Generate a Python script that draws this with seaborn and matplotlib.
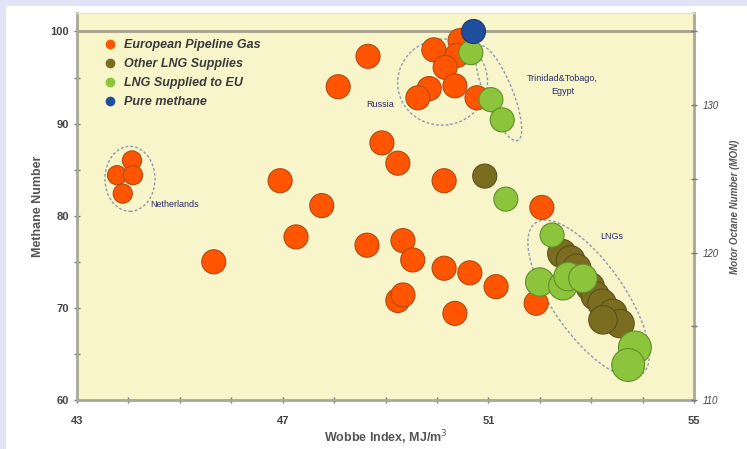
import matplotlib
matplotlib.use("Agg")
import matplotlib.pyplot as plt
import seaborn as sns
import pandas as pd
from matplotlib.patches import Ellipse, Rectangle
from matplotlib.lines import Line2D
from matplotlib.transforms import ScaledTranslation

# ---------------- data ----------------
pipeline_x = [44.07, 43.78, 44.09, 43.89, 45.66, 46.95, 47.76, 47.26, 48.64, 48.08,
              48.66, 48.93, 49.24, 50.14, 49.34, 49.53, 50.14, 50.64, 51.15, 49.24,
              49.34, 50.35, 51.93, 52.04, 50.45, 49.94, 50.39, 50.16, 50.35, 49.85,
              49.63, 50.78]
pipeline_y = [86.0, 84.4, 84.4, 82.4, 75.0, 83.8, 81.1, 77.7, 76.8, 94.0,
              97.3, 87.9, 85.7, 83.8, 77.3, 75.2, 74.3, 73.8, 72.3, 70.8,
              71.4, 69.4, 70.5, 80.9, 99.0, 98.0, 97.4, 96.1, 94.1, 93.8,
              92.8, 92.8]
pipeline_w = [2, 2, 2, 2, 3, 3, 3, 3, 3, 3,
              3, 3, 3, 3, 3, 3, 3, 3, 3, 3,
              3, 3, 3, 3, 3, 3, 3, 3, 3, 3,
              3, 3]

other_lng_x = [50.93, 52.43, 52.60, 52.72, 52.98, 53.08, 53.21, 53.42, 53.56, 53.23]
other_lng_y = [84.3, 75.9, 75.2, 74.3, 72.3, 71.3, 70.5, 69.4, 68.3, 68.7]
other_lng_w = [3, 4, 4, 4, 4, 4, 4, 4, 4, 4]

eu_lng_x = [50.66, 51.05, 51.27, 51.34, 52.24, 52.00, 52.45, 52.55, 52.84, 53.85, 53.72]
eu_lng_y = [97.7, 92.6, 90.4, 81.8, 77.9, 72.8, 72.4, 73.4, 73.2, 65.7, 63.8]
eu_lng_w = [3, 3, 3, 3, 3, 4, 4, 4, 4, 5, 5]

methane_x = [50.70]
methane_y = [100.1]
methane_w = [3]

categories = ["European Pipeline Gas", "Other LNG Supplies", "LNG Supplied to EU", "Pure methane"]
colors = ["#ff5500", "#7b6d1f", "#8cc43c", "#1f4f9c"]
edge_colors = ["#b04a10", "#5a5020", "#5f8f2a", "#203a70"]

x_ticks = [43, 47, 51, 55]
y_ticks = [60, 70, 80, 90, 100]
mon_ticks = [110, 120, 130]

regions = ["Netherlands", "Russia", "Trinidad&Tobago,\nEgypt", "LNGs"]

# ---------------- build frame ----------------
frames = []
for cat, xs, ys, ws in zip(categories,
                           [pipeline_x, other_lng_x, eu_lng_x, methane_x],
                           [pipeline_y, other_lng_y, eu_lng_y, methane_y],
                           [pipeline_w, other_lng_w, eu_lng_w, methane_w]):
    frames.append(pd.DataFrame({"wobbe": xs, "mn": ys, "cat": cat, "w": ws}))
df = pd.concat(frames, ignore_index=True)

size_map = {2: 190, 3: 300, 4: 420, 5: 560}

sns.set_theme(style="white")
plt.rcParams["font.family"] = ["Liberation Sans", "DejaVu Sans"]

fig = plt.figure(figsize=(7.47, 4.49), dpi=100, facecolor="#e3e3f7")
bg = Rectangle((6 / 747, 0), 1, 1 - 6 / 449, transform=fig.transFigure,
               facecolor="white", edgecolor="none", zorder=-10)
fig.patches.append(bg)

ax = fig.add_axes([77 / 747, 1 - 400 / 449, (694 - 77) / 747, (400 - 13) / 449])
ax.set_facecolor("#f8f5cb")

for cat, col, ec in zip(categories, colors, edge_colors):
    sub = df[df["cat"] == cat]
    sns.scatterplot(data=sub, x="wobbe", y="mn", size="w", sizes=size_map,
                    color=col, edgecolor=ec, linewidth=0.8, legend=False, ax=ax,
                    zorder=3)

ax.axhline(100, color="#a3a08c", lw=2, zorder=1)

ax.set_xlim(43, 55)
ax.set_ylim(60, 102)
ax.set_xticks(x_ticks)
ax.set_xticks(range(43, 56), minor=True)
ax.set_yticks(y_ticks)
ax.set_yticks(range(60, 101, 5), minor=True)
ax.tick_params(axis="both", which="both", direction="inout", length=5, width=1,
               color="#777777", labelsize=8, labelcolor="#444444", bottom=True, left=True)
ax.tick_params(axis="x", which="major", pad=9)
for lab in ax.get_xticklabels() + ax.get_yticklabels():
    lab.set_fontweight("bold")

ax.set_xlabel("Wobbe Index, MJ/m$^3$", fontsize=9, fontweight="bold", color="#555555", labelpad=2)
ax.set_ylabel("Methane Number", fontsize=9, fontweight="bold", color="#555555", labelpad=4)

for side in ["left", "bottom", "right"]:
    ax.spines[side].set_color("#a8a898")
    ax.spines[side].set_linewidth(2)
ax.spines["top"].set_color("#e8e4b8")
ax.spines["top"].set_linewidth(1)

ax2 = ax.twinx()
ax2.set_ylim(110, 110 + 42 * 25 / 40)
ax2.set_yticks(mon_ticks)
ax2.set_yticks([110, 115, 120, 125, 130, 135], minor=True)
ax2.tick_params(axis="y", which="both", direction="inout", length=5, width=1,
                color="#777777", labelsize=7, labelcolor="#444444", right=True)
for lab in ax2.get_yticklabels():
    lab.set_fontstyle("italic")
ax2.set_ylabel("Motor Octane Number (MON)", fontsize=7, fontstyle="italic",
               fontweight="bold", color="#555555", labelpad=8)
for sp in ax2.spines.values():
    sp.set_visible(False)

# region ellipses (sizes in inches, centre in data units)
def ring(cx, cy, w, h, ang):
    t = fig.dpi_scale_trans + ScaledTranslation(cx, cy, ax.transData)
    e = Ellipse((0, 0), w, h, angle=ang, transform=t, fill=False,
                edgecolor="#8e98b0", lw=1, ls=(0, (2, 1.5)), zorder=2)
    ax.add_patch(e)

ring(44.03, 84.0, 0.50, 0.65, 0)
ring(50.11, 94.5, 0.90, 0.86, 10)
ring(51.2, 93.3, 1.02, 0.28, -68)
ring(52.95, 71.0, 1.85, 0.72, -55)

txt_kw = dict(color="#2a2a6a", fontsize=6.5, zorder=5)
ax.text(44.42, 81.2, regions[0], ha="left", va="center", **txt_kw)
ax.text(48.9, 92.1, regions[1], ha="center", va="center", **txt_kw)
ax.text(52.44, 94.2, regions[2], ha="center", va="center", linespacing=1.5, **txt_kw)
ax.text(53.4, 77.7, regions[3], ha="center", va="center", **txt_kw)

handles = [Line2D([0], [0], marker="o", ls="none", markersize=6, markerfacecolor=c,
                  markeredgecolor=c) for c in colors]
leg = ax.legend(handles, categories, loc="upper left", bbox_to_anchor=(0.025, 0.945),
                frameon=False, handletextpad=0.1, labelspacing=0.55, borderaxespad=0,
                prop={"size": 9, "style": "italic", "weight": "bold"})
for t in leg.get_texts():
    t.set_color("#3a3a3a")

fig.savefig("out.png", dpi=100, facecolor=fig.get_facecolor())
